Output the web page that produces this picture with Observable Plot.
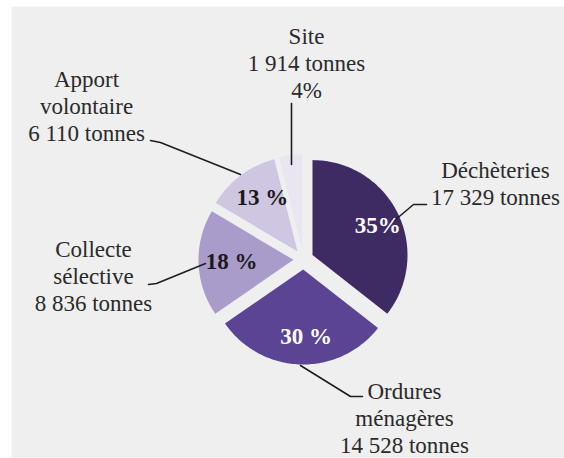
<!DOCTYPE html>
<html>
<head>
<meta charset="utf-8">
<script src="https://cdn.jsdelivr.net/npm/d3@7"></script>
<script src="https://cdn.jsdelivr.net/npm/@observablehq/plot@0.6"></script>
<style>
  html, body { margin: 0; padding: 0; background: #ffffff; overflow: hidden; }
  #chart svg { display: block; }
</style>
</head>
<body>
<div id="chart"></div>
<script>
// ---- data ----
const names = ["Déchèteries", "Ordures ménagères", "Collecte sélective", "Apport volontaire", "Site"];
const nameLines = [["Déchèteries"], ["Ordures", "ménagères"], ["Collecte", "sélective"], ["Apport", "volontaire"], ["Site"]];
const tonnes = [17329, 14528, 8836, 6110, 1914];
const pctLabels = ["35%", "30 %", "18 %", "13 %", "4%"];

// ---- styles / layout ----
const colors = ["#3f2b63", "#5b4494", "#a99ccb", "#cfc6e2", "#e9e5f1"];
const pctColors = ["#ffffff", "#ffffff", "#1a1a1a", "#1a1a1a", "#1a1a1a"];
const W = 564, H = 458;
const cx = 303, cy = 259, R = 95, explode = 10, pctRadius = 77;
const FONT = "Liberation Serif, Times New Roman, serif";
const labelAnchors = [[495, 182], [404, 417], [93, 275], [86, 105], [306, 62]];
const leaders = [
  [[394, 220], [413, 204], [426, 204]],
  [[300, 365], [350, 396], [362, 396]],
  [[205, 263], [156, 283], [148, 284]],
  [[240, 174], [160, 142], [150, 140]],
  [[291, 164], [291, 103]]
];

const locale = d3.formatLocale({decimal: ",", thousands: "\u00a0", grouping: [3], currency: ["", " €"]});
const fmt = locale.format(",d");

const pie = d3.pie().sort(null).value(d => d.t)(names.map((n, i) => ({name: n, t: tonnes[i], i})));

// slice polygons
const slicePts = [];
const pctPts = [];
pie.forEach(p => {
  const mid = (p.startAngle + p.endAngle) / 2;
  const ox = cx + Math.sin(mid) * explode, oy = cy - Math.cos(mid) * explode;
  const n = Math.max(8, Math.ceil((p.endAngle - p.startAngle) / 0.02));
  slicePts.push({name: p.data.name, x: ox, y: oy});
  for (let k = 0; k <= n; k++) {
    const a = p.startAngle + (p.endAngle - p.startAngle) * k / n;
    slicePts.push({name: p.data.name, x: ox + Math.sin(a) * R, y: oy - Math.cos(a) * R});
  }
  slicePts.push({name: p.data.name, x: ox, y: oy});
  if (p.data.i < 4) {
    pctPts.push({
      x: cx + Math.sin(mid) * pctRadius,
      y: cy - Math.cos(mid) * pctRadius,
      text: pctLabels[p.data.i],
      color: pctColors[p.data.i]
    });
  }
});

const outerLabels = names.map((n, i) => {
  let lines = nameLines[i].slice();
  lines.push(fmt(tonnes[i]) + " tonnes");
  if (i === 4) lines.push(pctLabels[i]);
  return {x: labelAnchors[i][0], y: labelAnchors[i][1], text: lines.join("\n")};
});

const leaderPts = [];
leaders.forEach((pts, i) => pts.forEach(([x, y]) => leaderPts.push({g: i, x, y})));

const chart = Plot.plot({
  width: W,
  height: H,
  marginLeft: 11, marginRight: 0, marginTop: 6, marginBottom: 1,
  x: {domain: [11, W], axis: null},
  y: {domain: [H - 1, 6], axis: null},
  color: {domain: names, range: colors},
  style: {background: "transparent", fontFamily: FONT},
  marks: [
    Plot.frame({fill: "#efefef", stroke: null}),
    Plot.line(slicePts, {x: "x", y: "y", z: "name", fill: "name", stroke: "none", curve: "linear"}),
    Plot.line(leaderPts, {x: "x", y: "y", z: "g", stroke: "#1e1e1e", strokeWidth: 1.6, curve: "linear"}),
    Plot.text(outerLabels, {x: "x", y: "y", text: "text", fontSize: 23, lineHeight: 1.17, fill: "#2a2a2a", fontFamily: FONT}),
    Plot.text(pctPts, {x: "x", y: "y", text: "text", dx: 5, fontSize: 23, fontWeight: "bold", fill: "color", fontFamily: FONT})
  ]
});
document.getElementById("chart").appendChild(chart);
</script>
</body>
</html>
